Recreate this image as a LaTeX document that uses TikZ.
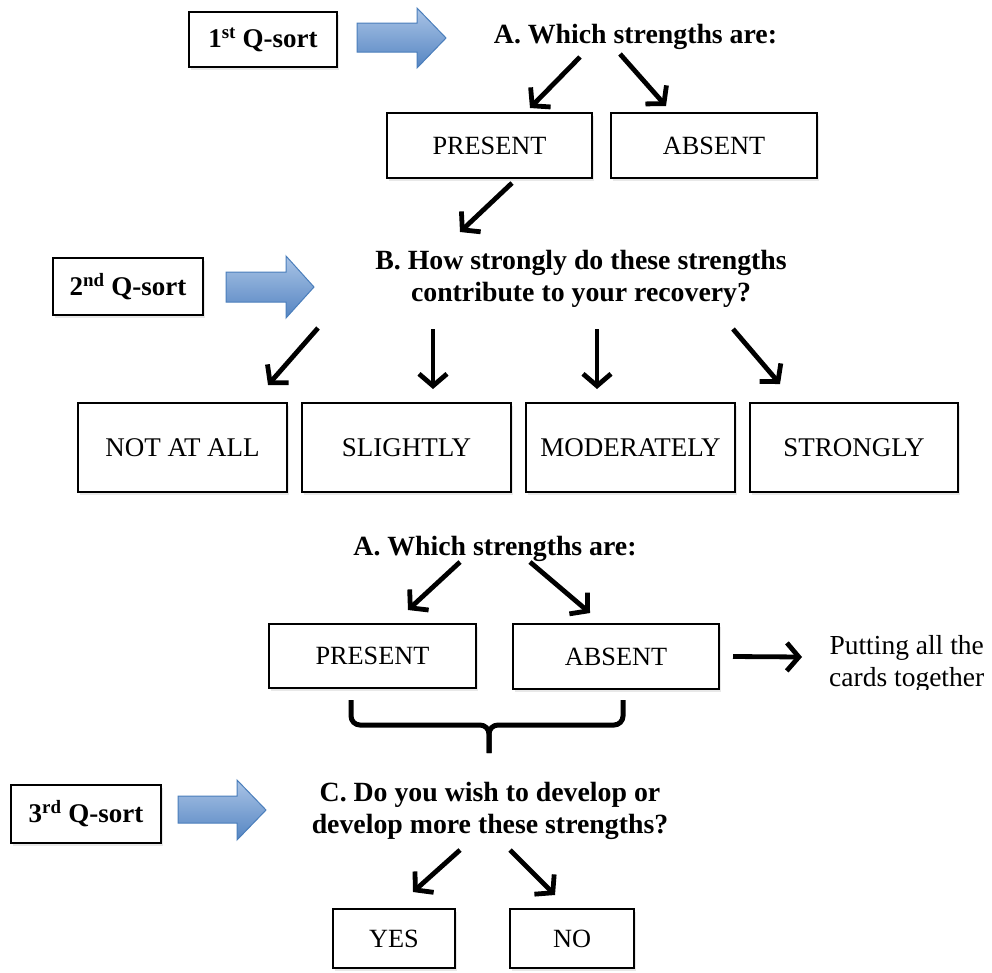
\documentclass[tikz,border=0pt]{standalone}
\usepackage{fontspec}
\setmainfont{Liberation Serif}
\usetikzlibrary{arrows.meta,shadows}
\definecolor{blueTop}{HTML}{AAC4E6}
\definecolor{blueBot}{HTML}{5585C2}
\definecolor{blueEdge}{HTML}{4A7EBB}
\begin{document}
\begin{tikzpicture}[x=1pt,y=-1pt,
  box/.style={draw=black, line width=2pt, fill=white, inner sep=0pt,
    font=\fontsize{26.3}{30}\selectfont,
    drop shadow={shadow xshift=1.5pt, shadow yshift=-2.5pt, opacity=0.18}},
  bigbox/.style={box, font=\fontsize{27}{30}\selectfont},
  qbox/.style={box, font=\bfseries\fontsize{27}{30}\selectfont},
  head/.style={font=\bfseries\fontsize{27.8}{32}\selectfont, align=center, inner sep=0pt},
  plain/.style={font=\fontsize{27.5}{32}\selectfont, align=center, inner sep=0pt},
  arr/.style={line width=4.8pt, -{Straight Barb[length=12pt,width=28pt]}},
  bluearr/.style={top color=blueTop, bottom color=blueBot, draw=blueEdge, line width=1pt, line join=miter}
]
\useasboundingbox (0,0) rectangle (992,972);

% ---------- 1st Q-sort ----------
\node[qbox, minimum width=148pt, minimum height=55pt] (q1) at (263,39.5) {1\textsuperscript{st} Q-sort};
\shade[bluearr] (357,23) -- (417,23) -- (417,8) -- (446,38) -- (417,68) -- (417,52) -- (357,52) -- cycle;
\node[head] (A1) at (635.5,37) {A. Which strengths are:};
\node[box, minimum width=205pt, minimum height=65pt] (pres1) at (489.5,145.5) {PRESENT};
\node[box, minimum width=206pt, minimum height=65pt] (abs1) at (714,145.5) {ABSENT};
\coordinate (a1s) at (580,57);  \coordinate (a1e) at (530,108);
\coordinate (a2s) at (620,54);  \coordinate (a2e) at (666,106);
\draw[arr] (a1s) -- (a1e);
\draw[arr] (a2s) -- (a2e);
\coordinate (a3s) at (512,183); \coordinate (a3e) at (460,232);
\draw[arr] (a3s) -- (a3e);

% ---------- 2nd Q-sort ----------
\node[qbox, minimum width=150pt, minimum height=57pt] (q2) at (128,286.5) {2\textsuperscript{nd} Q-sort};
\shade[bluearr] (226,272) -- (286,272) -- (286,256) -- (314,287) -- (286,318) -- (286,302) -- (226,302) -- cycle;
\node[head] (B) at (581,279) {B. How strongly do these strengths\\contribute to your recovery?};
\coordinate (b1s) at (318,328); \coordinate (b1e) at (268,385);
\coordinate (b2s) at (433,329); \coordinate (b2e) at (433,389);
\coordinate (b3s) at (597,329); \coordinate (b3e) at (597,389);
\coordinate (b4s) at (733,329); \coordinate (b4e) at (780,384);
\draw[arr] (b1s) -- (b1e);
\draw[arr] (b2s) -- (b2e);
\draw[arr] (b3s) -- (b3e);
\draw[arr] (b4s) -- (b4e);
\node[bigbox, minimum width=209pt, minimum height=89pt] (nal) at (182.5,447.5) {NOT AT ALL};
\node[bigbox, minimum width=209pt, minimum height=89pt] (sli) at (406.5,447.5) {SLIGHTLY};
\node[bigbox, minimum width=209pt, minimum height=89pt] (mod) at (630.5,447.5) {MODERATELY};
\node[bigbox, minimum width=208pt, minimum height=89pt] (str) at (854,447.5) {STRONGLY};

% ---------- second A ----------
\node[head] (A2) at (495,549) {A. Which strengths are:};
\coordinate (c1s) at (460,562); \coordinate (c1e) at (408,610);
\coordinate (c2s) at (530,562); \coordinate (c2e) at (590,613);
\draw[arr] (c1s) -- (c1e);
\draw[arr] (c2s) -- (c2e);
\node[box, minimum width=207pt, minimum height=64pt] (pres2) at (372.5,656) {PRESENT};
\node[box, minimum width=206pt, minimum height=65pt] (abs2) at (616,656.5) {ABSENT};
\coordinate (put) at (802,657);
\draw[arr] ([xshift=13pt]abs2.east) -- (put);
\begin{scope}
  \clip (805,600) rectangle (992,689);
  \node[plain, anchor=west] (putting) at (829,664) {Putting all the\\cards together};
\end{scope}

% brace
\coordinate (brL) at (351,700); \coordinate (brR) at (623,700);
\coordinate (brM) at (489,725); \coordinate (brB) at (489,753);
\draw[line width=5pt, rounded corners=9pt] (brL) -- (351,725) -- (brM) -- (brB);
\draw[line width=5pt, rounded corners=9pt] (brR) -- (623,725) -- (brM) -- (brB);

% ---------- 3rd Q-sort ----------
\node[qbox, minimum width=150pt, minimum height=58pt] (q3) at (86,814) {3\textsuperscript{rd} Q-sort};
\shade[bluearr] (178,796) -- (237,796) -- (237,780) -- (266,810) -- (237,840) -- (237,823) -- (178,823) -- cycle;
\node[head] (C) at (490,811) {C. Do you wish to develop or\\develop more these strengths?};
\coordinate (d1s) at (460,850); \coordinate (d1e) at (413,892);
\coordinate (d2s) at (510,850); \coordinate (d2e) at (555,895);
\draw[arr] (d1s) -- (d1e);
\draw[arr] (d2s) -- (d2e);
\node[box, minimum width=122pt, minimum height=59pt] (yes) at (394,938.5) {YES};
\node[box, minimum width=124pt, minimum height=59pt] (no) at (572,938.5) {NO};
\end{tikzpicture}
\end{document}
